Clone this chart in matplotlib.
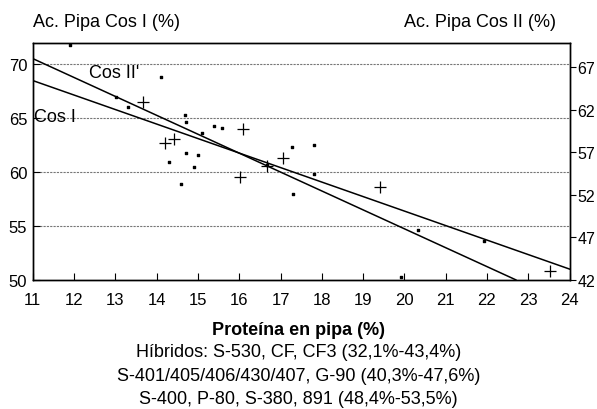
import matplotlib
matplotlib.use("Agg")
import matplotlib.pyplot as plt
import numpy as np

plt.rcParams['font.family'] = ['Liberation Sans', 'DejaVu Sans']

# Cos I (left axis), dots
cos1_x = [11.9, 13.01, 13.31, 14.1, 14.69, 14.7, 15.09, 15.4, 15.59, 14.31, 14.7,
          15.0, 14.9, 14.6, 16.68, 17.28, 17.31, 17.8, 17.8, 20.32, 21.93, 19.92]
cos1_y = [71.82, 66.95, 66.05, 68.82, 65.35, 64.65, 63.65, 64.26, 64.12, 60.98, 61.8,
          61.6, 60.5, 58.9, 60.7, 62.3, 57.95, 62.52, 59.87, 54.62, 53.64, 50.27]

# Cos II (right axis), plus markers
cos2_x = [13.67, 14.19, 14.42, 16.08, 16.02, 16.67, 17.07, 19.4, 23.53]
cos2_y = [62.93, 58.13, 58.5, 59.77, 54.04, 55.4, 56.35, 52.94, 43.04]

# regression lines (end points)
fit1_x = [11, 24]
fit1_y = [68.5, 51.0]
fit2_x = [11, 22.7]
fit2_y = [68.0, 42.0]

xticks = list(range(11, 25))
left_ticks = [50, 55, 60, 65, 70]
right_ticks = [42, 47, 52, 57, 62, 67]

fig = plt.figure(figsize=(5.97, 4.10), dpi=100)
ax = fig.add_axes([0.055, 0.315, 0.899, 0.578])
ax2 = ax.twinx()

ax.set_xlim(11, 24)
ax.set_ylim(50, 72)
ax2.set_ylim(42, 69.85)

for v in left_ticks[1:]:
    ax.axhline(v, color='#777777', lw=0.8, ls=(0, (2, 1)), zorder=1)

ax.scatter(cos1_x, cos1_y, s=3.5, marker='s', color='black', zorder=3)
ax.plot(fit1_x, fit1_y, color='black', lw=1.1, zorder=2)
ax2.scatter(cos2_x, cos2_y, s=70, marker='+', color='black', linewidths=0.9, zorder=3)
ax2.plot(fit2_x, fit2_y, color='black', lw=1.1, zorder=2)

ax.text(12.35, 68.8, "Cos II'", fontsize=13)
ax.text(11.02, 64.75, "Cos I", fontsize=13)

ax.set_xticks(xticks)
ax.set_yticks(left_ticks)
ax2.set_yticks(right_ticks)
ax.tick_params(axis='x', direction='in', length=5, pad=9, labelsize=12)
ax.tick_params(axis='y', direction='in', length=5, pad=4, labelsize=12)
ax2.tick_params(axis='y', direction='out', length=4, pad=1.5, labelsize=11.5)

for a in (ax, ax2):
    for s in a.spines.values():
        s.set_linewidth(1.0)

fig.text(0.055, 0.934, "Ac. Pipa Cos I (%)", fontsize=13, ha='left', va='baseline')
fig.text(0.931, 0.934, "Ac. Pipa Cos II (%)", fontsize=13, ha='right', va='baseline')

fig.text(0.50, 0.183, "Proteína en pipa (%)", fontsize=13, fontweight='bold', ha='center', va='baseline')
fig.text(0.50, 0.129, "Híbridos: S-530, CF, CF3 (32,1%-43,4%)", fontsize=13, ha='center', va='baseline')
fig.text(0.50, 0.071, "S-401/405/406/430/407, G-90 (40,3%-47,6%)", fontsize=13, ha='center', va='baseline')
fig.text(0.50, 0.015, "S-400, P-80, S-380, 891 (48,4%-53,5%)", fontsize=13, ha='center', va='baseline')

fig.savefig("out.png", dpi=100)
